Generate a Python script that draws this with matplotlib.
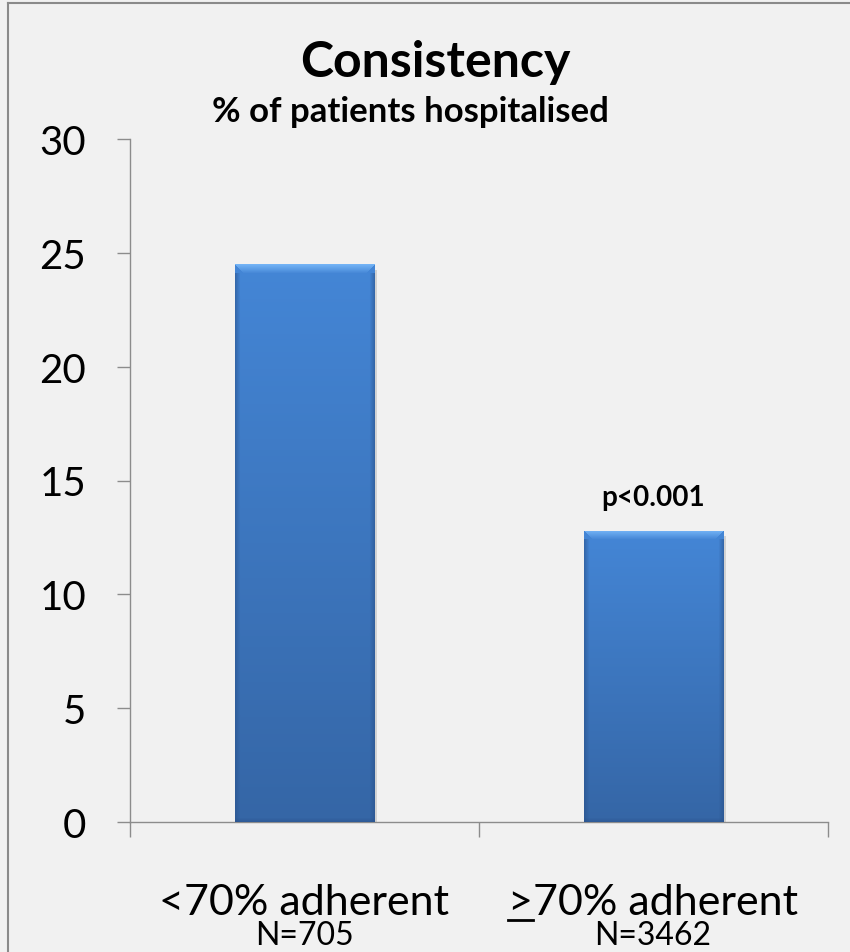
import numpy as np
import matplotlib.pyplot as plt
from matplotlib.colors import to_rgb
from matplotlib.lines import Line2D

# Hospitalisation rate by adherence group
categories = ['<70% adherent', '>70% adherent']
n_labels = ['N=705', 'N=3462']
pct_hospitalised = [24.5, 12.8]
p_text = 'p<0.001'

W, H, DPI = 850, 953, 100
BG = '#f1f1f1'
FONT = ['Lato', 'DejaVu Sans']
plt.rcParams['font.family'] = FONT


def fx(x):
    return x / W


def fy(y):
    return 1 - y / H


def bar_image(h_px, w_px):
    """Bevelled blue fill for one bar, built in screen pixels."""
    h_px, w_px = max(int(h_px), 2), max(int(w_px), 2)
    top = np.array(to_rgb('#4486d6'))
    bot = np.array(to_rgb('#3566a6'))
    t = np.linspace(0, 1, h_px)[:, None, None]
    img = top * (1 - t) + bot * t
    img = np.repeat(img, w_px, axis=1)
    # light top bevel
    bev = 9
    light = np.array(to_rgb('#74b4f6'))
    for r in range(min(bev, h_px)):
        a = 1 - r / bev
        img[r, r:w_px - r] = light * a + img[r, r:w_px - r] * (1 - a)
    # darker side and bottom edges
    dark = np.array(to_rgb('#29518a'))
    for c in range(5):
        a = 0.55 * (1 - c / 5)
        img[bev:, c] = dark * a + img[bev:, c] * (1 - a)
        img[bev:, w_px - 1 - c] = dark * a + img[bev:, w_px - 1 - c] * (1 - a)
    for r in range(4):
        a = 0.5 * (1 - r / 4)
        img[h_px - 1 - r, :] = dark * a + img[h_px - 1 - r, :] * (1 - a)
    return img


fig = plt.figure(figsize=(W / DPI, H / DPI), dpi=DPI, facecolor=BG)

# thin frame on the left and top
fig.add_artist(Line2D([fx(8), fx(8)], [0, fy(4)], color='#8a8a8a', lw=1.5))
fig.add_artist(Line2D([fx(8), 1], [fy(4), fy(4)], color='#8a8a8a', lw=1.5))

ax = fig.add_axes([fx(130), fy(823), fx(828) - fx(130), fy(140) - fy(823)])
ax.set_facecolor(BG)

x = np.arange(len(categories))
bar_w = 0.4
bars = ax.bar(x, pct_hospitalised, width=bar_w, color='none', zorder=3)

ax.set_xlim(-0.5, 1.5)
ax.set_ylim(0, 30)

px_per_unit = (823 - 140) / 30
px_per_cat = (828 - 130) / 2
for b, v in zip(bars, pct_hospitalised):
    x0 = b.get_x()
    # soft drop shadow
    ax.bar(x0 + bar_w / 2 + 0.008, v, width=bar_w, bottom=-0.25,
           color='#9a9a9a', alpha=0.35, zorder=2, lw=0)
    img = bar_image(v * px_per_unit, bar_w * px_per_cat)
    im = ax.imshow(img, extent=[x0, x0 + bar_w, 0, v], aspect='auto',
                   interpolation='bilinear', zorder=3)
    im.set_clip_path(b)

ax.set_yticks(np.arange(0, 31, 5))
ax.tick_params(axis='y', direction='out', length=9.5, width=1, color='#8c8c8c',
               labelsize=29, pad=22, labelcolor='black')
ax.set_xticks([-0.5, 0.5, 1.5])
ax.set_xticklabels([])
ax.tick_params(axis='x', direction='out', length=11, width=1, color='#8c8c8c')

for s in ['top', 'right']:
    ax.spines[s].set_visible(False)
for s in ['left', 'bottom']:
    ax.spines[s].set_color('#8c8c8c')
    ax.spines[s].set_linewidth(1)

# category labels and group sizes
centers = [304, 653]
for cx, cat, nl in zip(centers, categories, n_labels):
    t = fig.text(fx(cx), fy(915), cat, ha='center', va='baseline', fontsize=31)
    fig.text(fx(cx), fy(945), nl, ha='center', va='baseline', fontsize=23)

# underline the ">" so it reads as "greater or equal"
fig.canvas.draw()
r = fig.canvas.get_renderer()
lab = fig.texts[-2]
bb = lab.get_window_extent(r)
probe = fig.text(0, 0, '>', fontsize=31)
gw = probe.get_window_extent(r).width
probe.remove()
fig.add_artist(Line2D([bb.x0 / W, (bb.x0 + gw) / W], [fy(921), fy(921)],
                      color='black', lw=2))

ax.text(x[1], pct_hospitalised[1] + 0.9, p_text, ha='center', va='bottom',
        fontsize=20, fontweight='bold')

fig.text(fx(435), fy(77), 'Consistency', ha='center', va='baseline',
         fontsize=36, fontweight='bold')
fig.text(fx(410), fy(122), '% of patients hospitalised', ha='center',
         va='baseline', fontsize=25, fontweight='bold')

fig.savefig('out.png', dpi=DPI, facecolor=BG)
